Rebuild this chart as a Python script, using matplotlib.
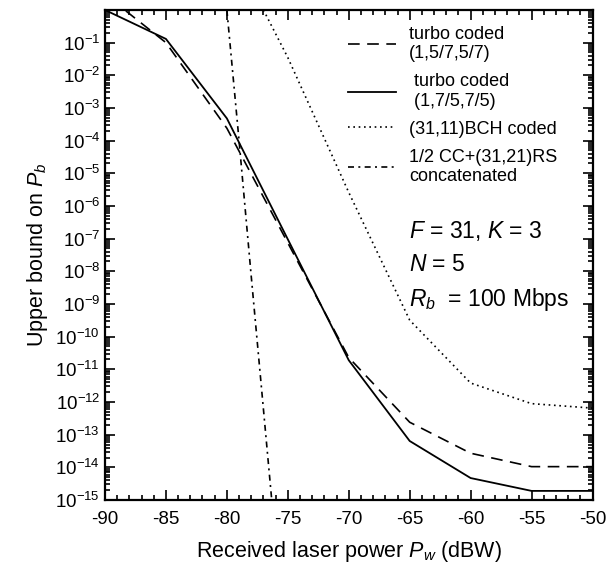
import numpy as np
import matplotlib
matplotlib.use("Agg")
import matplotlib.pyplot as plt
from matplotlib.ticker import MultipleLocator, LogLocator, NullFormatter

plt.rcParams["font.family"] = ["Liberation Sans", "DejaVu Sans"]
plt.rcParams["mathtext.fontset"] = "custom"
plt.rcParams["mathtext.rm"] = "Liberation Sans"
plt.rcParams["mathtext.it"] = "Liberation Sans:italic"
plt.rcParams["axes.unicode_minus"] = False

# received laser power (dBW) and upper bound on Pb
turbo57_x = [-90, -85, -80, -70, -65, -60, -55, -50]
turbo57_y = [3.0, 1.0e-1, 2.4e-4, 2.3e-11, 2.4e-13, 2.7e-14, 1.05e-14, 1.05e-14]

turbo75_x = [-90, -85, -80, -70, -65, -60, -55, -50]
turbo75_y = [1.0, 1.3e-1, 4.8e-4, 1.9e-11, 6.4e-14, 4.7e-15, 1.9e-15, 1.9e-15]

bch_x = [-77, -75, -70, -65, -60, -55, -50]
bch_y = [1.0, 3.5e-2, 2.6e-6, 3.2e-10, 3.8e-12, 8.9e-13, 6.5e-13]

concat_x = [-80, -79, -78, -77, -76]
concat_y = [1.0, 1.0e-4, 7.0e-9, 6.0e-13, 5.0e-17]

labels = ["turbo coded\n(1,5/7,5/7)", " turbo coded\n (1,7/5,7/5)",
          "(31,11)BCH coded", "1/2 CC+(31,21)RS\nconcatenated"]

fig = plt.figure(figsize=(6.14, 5.70), dpi=100)
ax = fig.add_axes([0.171, 0.1228, 0.794, 0.8597])

ax.plot(turbo57_x, turbo57_y, color="black", lw=1.2, dashes=(7, 4.5), label=labels[0])
ax.plot(turbo75_x, turbo75_y, color="black", lw=1.3, label=labels[1])
ax.plot(bch_x, bch_y, color="black", lw=1.2, dashes=(1, 2.2), label=labels[2])
ax.plot(concat_x, concat_y, color="black", lw=1.2, dashes=(3.6, 2.6, 1.2, 2.6), label=labels[3])

ax.set_yscale("log")
ax.set_xlim(-90, -50)
ax.set_ylim(1e-15, 1)
ax.xaxis.set_major_locator(MultipleLocator(5))
ax.xaxis.set_minor_locator(MultipleLocator(1))
ax.yaxis.set_minor_locator(LogLocator(base=10, subs=np.arange(2, 10), numticks=20))
ax.yaxis.set_minor_formatter(NullFormatter())
ax.set_yticks([10.0 ** k for k in range(-15, 0)])

ax.tick_params(which="both", direction="in", top=True, right=True, width=1.2)
ax.tick_params(which="major", length=7, labelsize=13.5)
ax.tick_params(which="minor", length=3.5)
ax.tick_params(axis="x", pad=8)
for s in ax.spines.values():
    s.set_linewidth(1.6)

ax.set_xlabel("Received laser power $P_w$ (dBW)", fontsize=15.5, labelpad=8)
ax.set_ylabel("Upper bound on $P_b$", fontsize=15.5, labelpad=4)

leg = ax.legend(loc="upper right", bbox_to_anchor=(0.957, 0.997), frameon=False,
                fontsize=13, handlelength=2.66, handletextpad=0.72,
                labelspacing=0.6, borderpad=0.3)

ax.text(0.623, 0.534, "$F$ = 31, $K$ = 3", transform=ax.transAxes, fontsize=16.5)
ax.text(0.623, 0.467, "$N$ = 5", transform=ax.transAxes, fontsize=16.5)
ax.text(0.623, 0.396, "$R_b$  = 100 Mbps", transform=ax.transAxes, fontsize=16.5)

fig.savefig("out.png", dpi=100)
